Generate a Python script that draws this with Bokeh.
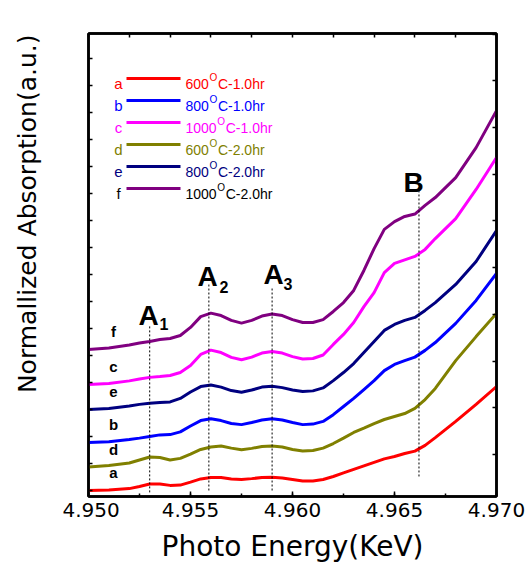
from math import pi

from bokeh.plotting import figure
from bokeh.layouts import row
from bokeh.models import (ColumnDataSource, Range1d, LinearAxis, SingleIntervalTicker,
                          CustomJSTickFormatter, NumeralTickFormatter)
from bokeh.core.properties import value
from bokeh.embed import file_html
from bokeh.resources import INLINE

# ---------------------------------------------------------------- data
energy = [4.9500, 4.9510, 4.9520, 4.9525, 4.9530, 4.9535, 4.9540, 4.9545, 4.9550,
          4.9555, 4.9560, 4.9565, 4.9570, 4.9575, 4.9580, 4.9585, 4.9590, 4.9595,
          4.9600, 4.9605, 4.9610, 4.9615, 4.9620, 4.9625, 4.9630, 4.9635, 4.9640,
          4.9645, 4.9650, 4.9655, 4.9660, 4.9665, 4.9670, 4.9680, 4.9690, 4.9700]

# normalized absorption (stacked, a.u.)
absorption_a = [0.00, 0.02, 0.07, 0.15, 0.24, 0.24, 0.19, 0.20, 0.31, 0.43, 0.48, 0.48,
                0.43, 0.41, 0.44, 0.48, 0.49, 0.46, 0.41, 0.35, 0.35, 0.41, 0.52, 0.65,
                0.78, 0.91, 1.04, 1.17, 1.26, 1.37, 1.46, 1.67, 1.96, 2.56, 3.19, 3.85]
absorption_b = [1.78, 1.81, 1.89, 1.94, 2.00, 2.06, 2.07, 2.17, 2.39, 2.59, 2.66, 2.59,
                2.48, 2.44, 2.52, 2.61, 2.66, 2.61, 2.52, 2.44, 2.46, 2.56, 2.81, 3.11,
                3.41, 3.74, 4.07, 4.44, 4.67, 4.81, 4.94, 5.19, 5.48, 6.19, 7.04, 8.04]
absorption_c = [3.93, 3.96, 4.06, 4.13, 4.19, 4.22, 4.26, 4.37, 4.63, 5.04, 5.20, 5.11,
                4.93, 4.84, 4.94, 5.09, 5.15, 5.09, 4.96, 4.87, 4.89, 5.02, 5.41, 5.78,
                6.22, 6.81, 7.33, 8.07, 8.41, 8.54, 8.67, 8.93, 9.33, 10.07, 11.15, 12.33]
absorption_d = [0.87, 0.93, 1.02, 1.13, 1.24, 1.22, 1.13, 1.19, 1.35, 1.52, 1.61, 1.65,
                1.57, 1.51, 1.56, 1.63, 1.65, 1.61, 1.52, 1.46, 1.48, 1.57, 1.74, 1.94,
                2.15, 2.31, 2.48, 2.63, 2.74, 2.85, 3.04, 3.37, 3.78, 4.81, 5.70, 6.56]
absorption_e = [3.00, 3.04, 3.13, 3.19, 3.23, 3.26, 3.28, 3.41, 3.65, 3.85, 3.91, 3.83,
                3.70, 3.64, 3.72, 3.83, 3.86, 3.81, 3.72, 3.67, 3.69, 3.80, 4.07, 4.37,
                4.70, 5.11, 5.52, 5.93, 6.15, 6.30, 6.41, 6.67, 6.96, 7.63, 8.48, 9.63]
absorption_f = [5.22, 5.28, 5.39, 5.46, 5.52, 5.59, 5.63, 5.74, 6.04, 6.44, 6.57, 6.48,
                6.30, 6.20, 6.30, 6.46, 6.54, 6.48, 6.33, 6.22, 6.22, 6.33, 6.63, 6.96,
                7.41, 8.15, 8.96, 9.67, 9.96, 10.15, 10.24, 10.56, 10.85, 11.59, 12.70, 14.07]

sample_tags = ["a", "b", "c", "d", "e", "f"]
anneal_temps = ["600", "800", "1000", "600", "800", "1000"]
anneal_times = ["1.0hr", "1.0hr", "1.0hr", "2.0hr", "2.0hr", "2.0hr"]
series = [absorption_a, absorption_b, absorption_c, absorption_d, absorption_e, absorption_f]

line_colors = ["#ff0000", "#0000ff", "#ff00ff", "#808000", "#000080", "#800080"]
text_colors = ["#ff0000", "#0000ff", "#ff00ff", "#808000", "#000080", "#000000"]

# pre-edge / edge features
feature_names = ["A", "A", "A", "B"]
feature_subs = ["1", "2", "3"]
feature_energy = [4.9530, 4.9559, 4.9590, 4.9662]
feature_top = [6.11, 7.63, 7.52, 11.22]
feature_bottom = [-0.07, 0.00, 0.00, 0.52]

y_title = "Normallized Absorption(a.u.)"
x_title = "Photo Energy(KeV)"

# ---------------------------------------------------------------- layout
W, H = 528, 570
STRIP = 62                      # strip holding the vertical title
LEFT, RIGHT, TOP, BOTTOM = 88, 496, 33, 496
X0, X1 = 4.950, 4.970
Y0, Y1 = -0.222, 16.926


def dx(px):
    return X0 + (px - LEFT) * (X1 - X0) / (RIGHT - LEFT)


def dy(py):
    return Y0 + (BOTTOM - py) * (Y1 - Y0) / (BOTTOM - TOP)


# vertical title strip
t = figure(width=STRIP, height=H, output_backend="svg", toolbar_location=None,
           x_range=Range1d(0, STRIP), y_range=Range1d(0, H),
           min_border=0, min_border_left=0, min_border_right=0,
           min_border_top=0, min_border_bottom=0)
t.axis.visible = False
t.grid.visible = False
t.outline_line_color = None
t.background_fill_color = "white"
t.border_fill_color = "white"
t.text(x=[27], y=[H - 222], text=[y_title], angle=pi / 2,
       text_font=value("DejaVu Sans"), text_font_size="25px", text_color="black",
       text_align="center", text_baseline="alphabetic")

# main plot
p = figure(width=W - STRIP, height=H, output_backend="svg", toolbar_location=None,
           x_range=Range1d(X0, X1), y_range=Range1d(Y0, Y1),
           min_border_left=LEFT - STRIP, min_border_right=W - RIGHT,
           min_border_top=TOP, min_border_bottom=H - BOTTOM)
p.background_fill_color = "white"
p.border_fill_color = "white"
p.grid.visible = False
p.outline_line_color = "black"
p.outline_line_width = 2.5

blank = CustomJSTickFormatter(code="return ''")

# bottom axis
xa = p.xaxis[0]
xa.ticker = SingleIntervalTicker(interval=0.005, num_minor_ticks=2)
xa.formatter = NumeralTickFormatter(format="0.000")
xa.major_label_text_font = "DejaVu Sans"
xa.major_label_text_font_size = "20px"
xa.major_label_text_color = "black"
xa.major_label_standoff = 6
xa.axis_label = x_title
xa.axis_label_text_font = "DejaVu Sans"
xa.axis_label_text_font_size = "28px"
xa.axis_label_text_font_style = "normal"
xa.axis_label_text_color = "black"
xa.axis_label_standoff = 10

# left axis
ya = p.yaxis[0]
ya.ticker = SingleIntervalTicker(interval=1, num_minor_ticks=0)
ya.formatter = blank
ya.major_label_standoff = 0

# mirrored top and right axes
top_axis = LinearAxis(ticker=SingleIntervalTicker(interval=0.002, num_minor_ticks=0),
                      formatter=blank)
p.add_layout(top_axis, "above")
p.extra_y_ranges = {"right": Range1d(0.1, 10.015)}
right_axis = LinearAxis(y_range_name="right",
                        ticker=SingleIntervalTicker(interval=1, num_minor_ticks=0),
                        formatter=blank)
p.add_layout(right_axis, "right")

for ax in [xa, ya, top_axis, right_axis]:
    ax.axis_line_width = 2.5
    ax.axis_line_color = "black"
    ax.major_tick_line_color = "black"
    ax.major_tick_line_width = 1.5
    ax.minor_tick_line_color = "black"
    ax.minor_tick_line_width = 1.5
    ax.major_tick_out = 0
    ax.minor_tick_out = 0
    ax.major_tick_in = 4
    ax.minor_tick_in = 3
xa.major_tick_in = 5

# ---------------------------------------------------------------- curves
for ys, col in zip(series, line_colors):
    p.line(energy, ys, line_color=col, line_width=3)

# dotted markers for A1, A2, A3 and B
p.segment(x0=feature_energy, y0=feature_bottom, x1=feature_energy, y1=feature_top,
          line_color="black", line_width=1, line_dash="2 2")

font = value("Liberation Sans")
main_pos = [(138, 315), (197, 276), (263, 274), (403, 182)]
sub_pos = [(159, 323), (219, 286), (283, 283)]
p.text(x=[dx(px) for px, _ in main_pos], y=[dy(py) for _, py in main_pos],
       text=feature_names, text_font=font, text_font_style="bold",
       text_font_size="28px", text_color="black",
       text_align="left", text_baseline="alphabetic")
p.text(x=[dx(px) for px, _ in sub_pos], y=[dy(py) for _, py in sub_pos],
       text=feature_subs, text_font=font, text_font_style="bold",
       text_font_size="16px", text_color="black",
       text_align="left", text_baseline="alphabetic")

# curve tags at the left end of each trace
p.text(x=[dx(113)] * 6, y=[ys[0] for ys in series], text=sample_tags,
       y_offset=-18, text_font=font, text_font_style="bold", text_font_size="15px",
       text_color="black", text_align="center", text_baseline="middle")

# ---------------------------------------------------------------- legend
leg_letter_x, leg_letter_y, leg_text_x, leg_text_y = [], [], [], []
sup_x, sup_y, rest_x, rest_text = [], [], [], []
seg_y = []
for i, temp in enumerate(anneal_temps):
    yc = 78 + 22 * i
    base = yc + 5
    seg_y.append(dy(yc))
    leg_letter_x.append(dx(118))
    leg_letter_y.append(dy(base))
    leg_text_x.append(dx(185))
    leg_text_y.append(dy(base))
    w = 7.8 * len(temp)
    sup_x.append(dx(185 + w + 0.5))
    sup_y.append(dy(base - 6))
    rest_x.append(dx(185 + w + 9))
    rest_text.append("C-" + anneal_times[i])

p.segment(x0=[dx(126)] * 6, y0=seg_y, x1=[dx(180)] * 6, y1=seg_y,
          line_color=line_colors, line_width=3)
leg = ColumnDataSource(dict(lx=leg_letter_x, ly=leg_letter_y, tag=sample_tags,
                            tx=leg_text_x, ty=leg_text_y, temp=anneal_temps,
                            sx=sup_x, sy=sup_y, deg=["O"] * 6,
                            rx=rest_x, rest=rest_text, color=text_colors))
p.text(x="lx", y="ly", text="tag", source=leg, text_color="color", text_font=font,
       text_font_size="15px", text_align="center", text_baseline="alphabetic")
p.text(x="tx", y="ty", text="temp", source=leg, text_color="color", text_font=font,
       text_font_size="14px", text_align="left", text_baseline="alphabetic")
p.text(x="sx", y="sy", text="deg", source=leg, text_color="color", text_font=font,
       text_font_size="10px", text_align="left", text_baseline="alphabetic")
p.text(x="rx", y="ty", text="rest", source=leg, text_color="color", text_font=font,
       text_font_size="14px", text_align="left", text_baseline="alphabetic")

layout = row(t, p, spacing=0)
open("out.html", "w").write(file_html(layout, INLINE))
